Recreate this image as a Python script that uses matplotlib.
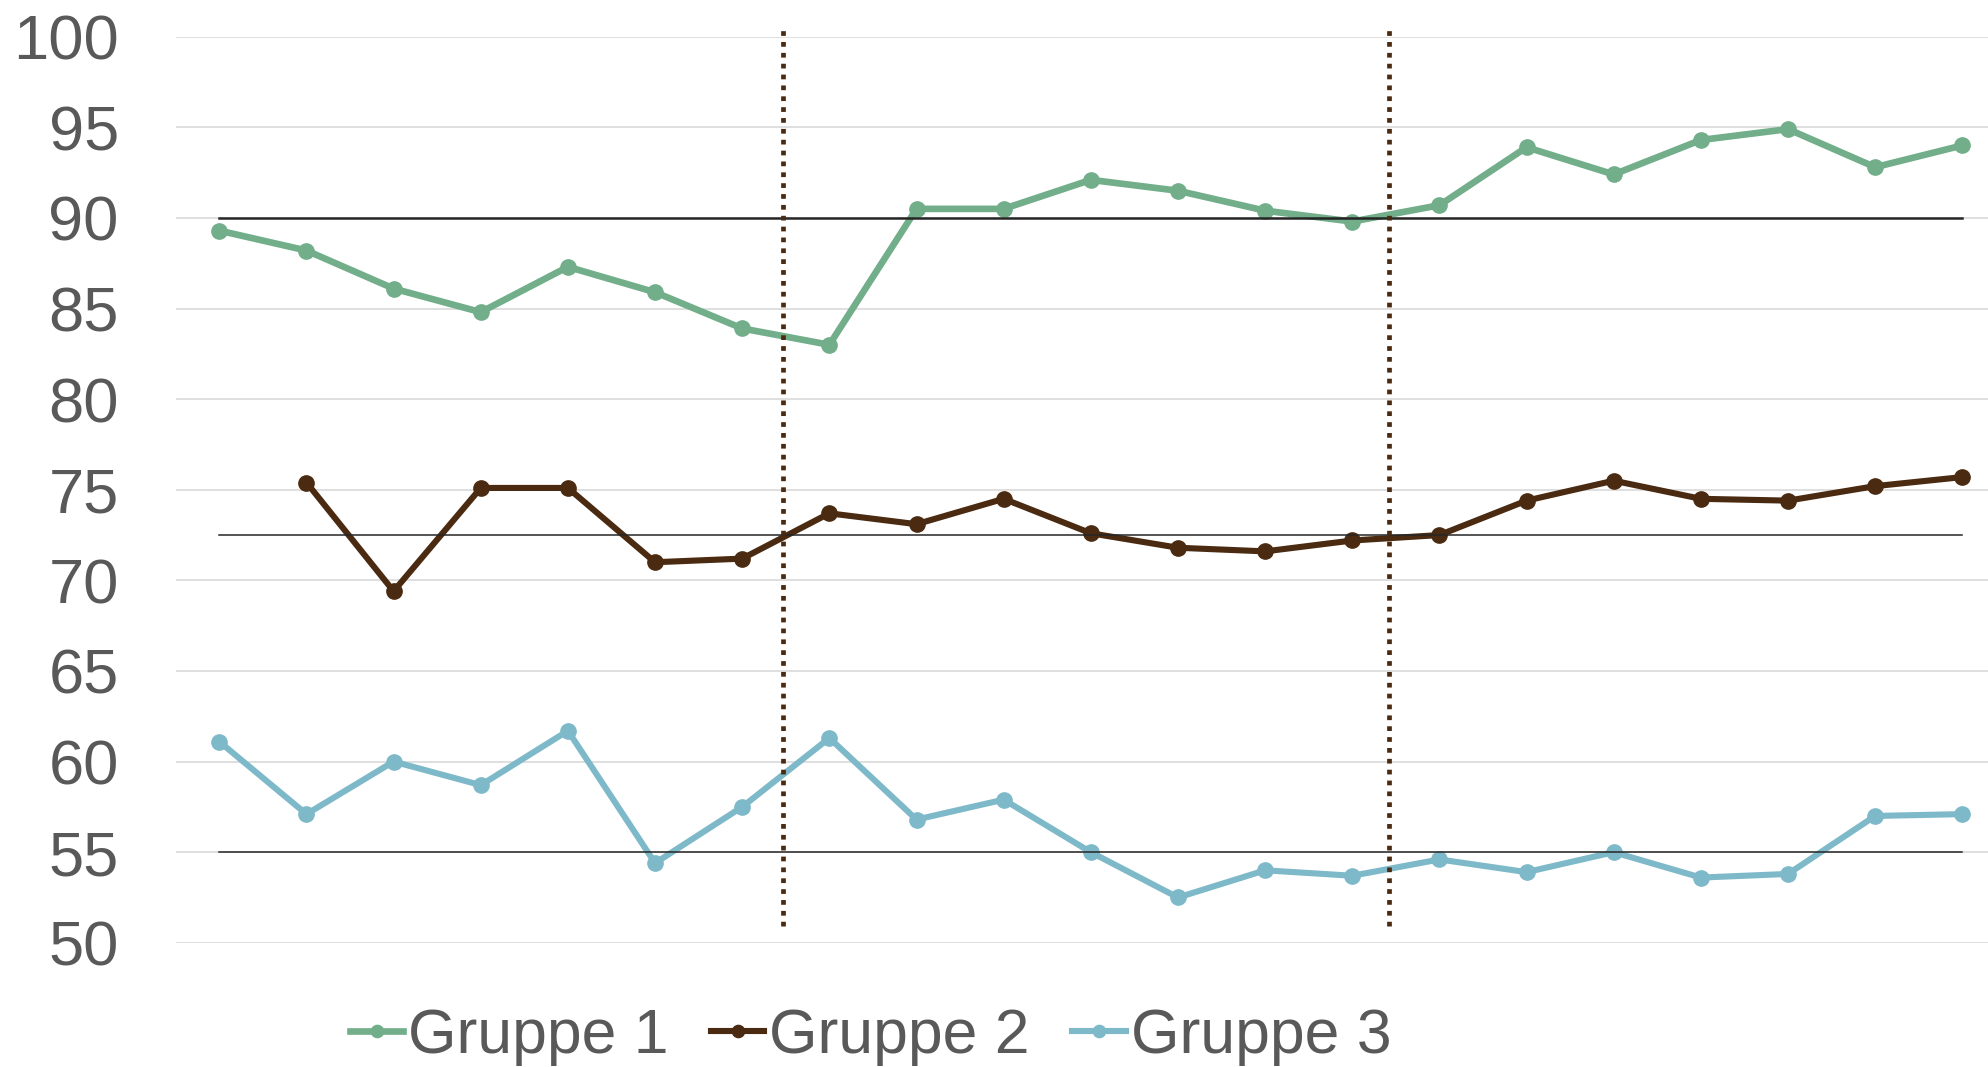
import matplotlib.pyplot as plt
import numpy as np

plt.rcParams['font.family'] = ['Liberation Sans', 'DejaVu Sans']

# Values (21 time points)
x = np.arange(21)
gruppe1 = [89.3, 88.2, 86.1, 84.8, 87.3, 85.9, 83.9, 83.0, 90.5, 90.5, 92.1,
           91.5, 90.4, 89.8, 90.7, 93.9, 92.4, 94.3, 94.9, 92.8, 94.0]
gruppe2 = [np.nan, 75.4, 69.4, 75.1, 75.1, 71.0, 71.2, 73.7, 73.1, 74.5, 72.6,
           71.8, 71.6, 72.2, 72.5, 74.4, 75.5, 74.5, 74.4, 75.2, 75.7]
gruppe3 = [61.1, 57.1, 60.0, 58.7, 61.7, 54.4, 57.5, 61.3, 56.8, 57.9, 55.0,
           52.5, 54.0, 53.7, 54.6, 53.9, 55.0, 53.6, 53.8, 57.0, 57.1]
labels = ['Gruppe 1', 'Gruppe 2', 'Gruppe 3']
colors = ['#72AE8A', '#4A2A10', '#7EB9C9']
widths = [4.8, 4.4, 4.4]

# reference (mean) levels and phase separators
means = [90.0, 72.5, 55.0]
mean_widths = [1.8, 1.1, 1.1]
phase_breaks = [6.47, 13.42]

fig = plt.figure(figsize=(19.88, 10.67), dpi=100)
ax = fig.add_axes([0.0884, 0.1164, 0.9206, 0.8492])

for vals, lab, col, w in zip([gruppe1, gruppe2, gruppe3], labels, colors, widths):
    ax.plot(x, vals, color=col, lw=w, marker='o', markersize=11, label=lab,
            zorder=3)

for m, w in zip(means, mean_widths):
    ax.plot([x[0], x[-1]], [m, m], color='#262626', lw=w, zorder=4)

for b in phase_breaks:
    ax.plot([b, b], [50.9, 100.5], color='#4A2A10', lw=3.4,
            linestyle=(0, (1, 1.3)), zorder=5, clip_on=False)

ax.set_xlim(-0.5, 20.5)
ax.set_ylim(50, 100)
ax.set_yticks(np.arange(50, 101, 5))
ax.set_xticks([])
ax.grid(axis='y', color='#D9D9D9', lw=1.2, zorder=0)
ax.set_axisbelow(True)
for s in ax.spines.values():
    s.set_visible(False)
ax.tick_params(axis='y', length=0, pad=41, labelsize=45.5, labelcolor='#595959')

fig.legend(loc='center', bbox_to_anchor=(0.438, 0.029), ncol=3, frameon=False,
           fontsize=45, labelcolor='#595959', handlelength=0.85,
           handletextpad=0.08, columnspacing=0.68, markerscale=0.8,
           borderaxespad=0, borderpad=0.1)

fig.savefig('out.png', dpi=100)
